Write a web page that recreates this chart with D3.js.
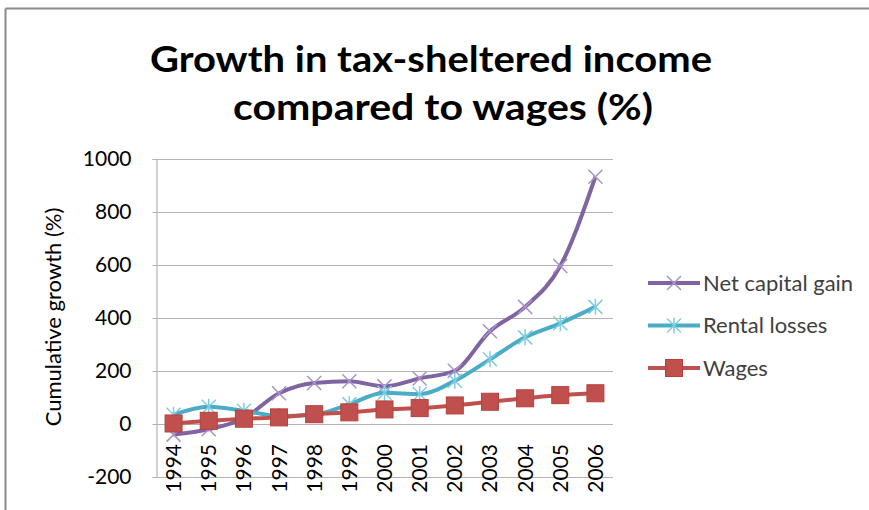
<!DOCTYPE html>
<html><head><meta charset="utf-8">
<script src="https://cdn.jsdelivr.net/npm/d3@7"></script>
<style>body{margin:0;background:#fff}svg{display:block}</style>
</head><body>
<script>
const years = ["1994","1995","1996","1997","1998","1999","2000","2001","2002","2003","2004","2005","2006"];
const netCapitalGain = [-40,-20,22,116,155,161,142,172,201,350,442,596,933];
const rentalLosses = [35,65,50,30,35,75,118,113,163,244,327,380,442];
const wages = [2,12,20,25,37,44,55,60,70,84,97,109,116];
const yTicks = [-200,0,200,400,600,800,1000];
const seriesNames = ["Net capital gain","Rental losses","Wages"];
const titleLines = ["Growth in tax-sheltered income","compared to wages (%)"];
const yTitle = "Cumulative growth (%)";

const W=869,H=510;
const svg=d3.select("body").append("svg").attr("width",W).attr("height",H);
const font="Lato, 'Open Sans', sans-serif";

// frame
svg.append("line").attr("x1",5.5).attr("x2",W).attr("y1",8.5).attr("y2",8.5).attr("stroke","#8a8a8a").attr("stroke-width",2);
svg.append("line").attr("x1",5.5).attr("x2",5.5).attr("y1",8.5).attr("y2",H).attr("stroke","#8a8a8a").attr("stroke-width",2);

const x=d3.scaleBand().domain(years).range([156,613]).padding(0);
const y=d3.scaleLinear().domain([-200,1000]).range([477,159]);

// gridlines
svg.append("g").selectAll("line").data(yTicks).join("line")
  .attr("x1",156).attr("x2",613).attr("y1",d=>Math.round(y(d))+0.5).attr("y2",d=>Math.round(y(d))+0.5)
  .attr("stroke","#b3b3b3").attr("stroke-width",1.2);

// y axis
const ya=svg.append("g").attr("transform","translate(156.5,0)").call(d3.axisLeft(y).tickValues(yTicks).tickSize(4).tickPadding(21).tickFormat(d=>String(d)));
ya.select(".domain").attr("stroke","#b3b3b3").attr("stroke-width",1.2);
ya.selectAll(".tick line").attr("stroke","#b3b3b3");
ya.selectAll(".tick text").attr("font-family",font).attr("font-size",21).attr("fill","#000");

// x axis labels
const xa=svg.append("g").attr("transform","translate(0,444)");
xa.selectAll("text").data(years).join("text")
  .attr("transform",d=>`translate(${x(d)+x.bandwidth()/2+7.5},0) rotate(-90)`)
  .attr("text-anchor","end").attr("font-family",font).attr("font-size",21).attr("fill","#000").text(d=>d);

// y title
svg.append("text").attr("transform","translate(61,317) rotate(-90)").attr("text-anchor","middle")
  .attr("font-family",font).attr("font-size",22).attr("fill","#000").text(yTitle);

// title
const titleW=[562,420];
svg.append("g").selectAll("text").data(titleLines).join("text")
  .attr("x",(d,i)=>i===0?150:233).attr("y",(d,i)=>72+i*48)
  .attr("textLength",(d,i)=>titleW[i]).attr("lengthAdjust","spacingAndGlyphs")
  .attr("font-family",font).attr("font-weight","bold").attr("font-size",37).attr("fill","#000").text(d=>d);

const colors=["#8064a2","#4bacc6","#c0504d"];
const markerColors=["#a993c8","#7fcde0","#c0504d"];
const data=[netCapitalGain,rentalLosses,wages];
const cx=i=>x(years[i])+x.bandwidth()/2;
const line=d3.line().x((d,i)=>cx(i)).y(d=>y(d)).curve(d3.curveMonotoneX);

function drawMarker(g,type,px,py){
  if(type===0){
    const s=7;
    g.append("path").attr("d",`M${px-s},${py-s}L${px+s},${py+s}M${px-s},${py+s}L${px+s},${py-s}`)
      .attr("stroke",markerColors[0]).attr("stroke-width",1.5).attr("fill","none");
  } else if(type===1){
    const s=7;
    g.append("path").attr("d",`M${px-s},${py-s}L${px+s},${py+s}M${px-s},${py+s}L${px+s},${py-s}M${px},${py-s-1}L${px},${py+s+1}`)
      .attr("stroke",markerColors[1]).attr("stroke-width",1.5).attr("fill","none");
  } else {
    const s=8.5;
    g.append("rect").attr("x",px-s).attr("y",py-s).attr("width",2*s).attr("height",2*s)
      .attr("fill","#c0504d").attr("stroke","#b6403c").attr("stroke-width",1);
  }
}

data.forEach((vals,k)=>{
  const g=svg.append("g");
  g.append("path").datum(vals).attr("d",line).attr("fill","none").attr("stroke",colors[k]).attr("stroke-width",4).attr("stroke-linejoin","round");
  vals.forEach((v,i)=>drawMarker(g,k,cx(i),y(v)));
});

// legend
const lg=svg.append("g");
seriesNames.forEach((n,k)=>{
  const ly=283+k*42.5;
  lg.append("line").attr("x1",648).attr("x2",700).attr("y1",ly).attr("y2",ly).attr("stroke",colors[k]).attr("stroke-width",4);
  drawMarker(lg,k,674,ly);
  lg.append("text").attr("x",703).attr("y",ly+7.5).attr("font-family",font).attr("font-size",22).attr("fill","#404040").text(n);
});
</script>
</body></html>
